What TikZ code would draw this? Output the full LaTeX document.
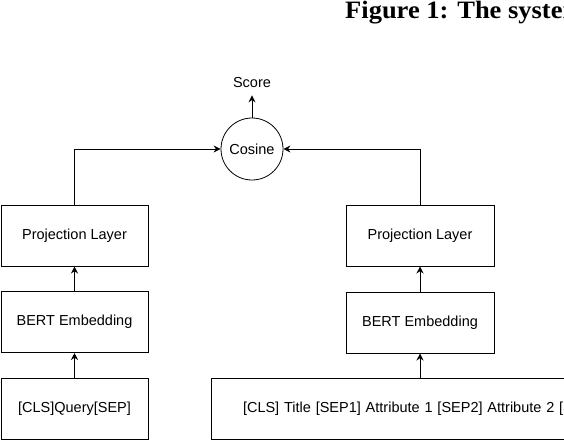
\documentclass[tikz,border=0pt]{standalone}
\usepackage{fontspec}
\setmainfont{Liberation Sans}
\newfontfamily\capfont[FakeStretch=1.06]{Liberation Serif}
\usetikzlibrary{arrows.meta}

\tikzset{
  blk/.style={draw, line width=1pt, minimum width=147pt, minimum height=61pt, inner sep=0pt},
  lnk/.style={-{Stealth[length=7pt,width=7pt]}, line width=1pt},
}

\begin{document}
\begin{tikzpicture}[x=1pt, y=-1pt, font=\fontsize{14.5}{17}\selectfont]
\useasboundingbox (0,0) rectangle (564,440);
\clip (0,0) rectangle (564,440);

% caption, cut at the page edge
\node[anchor=base west, inner sep=0pt, font=\capfont\bfseries\fontsize{25}{30}\selectfont]
  (caption) at (345,18) {Figure 1: The system};

% query tower
\node[blk] (lproj) at (74.5,235.5) {Projection Layer};
\node[blk] (lbert) at (74.5,322) {BERT Embedding};
\node[blk] (lquery) at (74.5,408.5) {[CLS]Query[SEP]};

% item tower
\node[blk, minimum width=148pt] (rproj) at (420,235.5) {Projection Layer};
\node[blk, minimum width=148pt] (rbert) at (420,322.5) {BERT Embedding};
\node[blk, text width=450pt, inner xsep=32pt, align=left] (ritem) at (468,408.5)
  {[CLS] Title [SEP1] Attribute 1 [SEP2] Attribute 2 [SEP3]};

% similarity
\node[draw, circle, line width=0.8pt, minimum size=62pt, inner sep=0pt] (cosine) at (252,149) {Cosine};
\node[anchor=base, inner sep=0pt, inner ysep=8pt] (score) at (252,87) {Score};

\draw[lnk] (lquery) -- (lbert);
\draw[lnk] (lbert) -- (lproj);
\draw[lnk] (lproj.north) |- (cosine.west);
\draw[lnk] (ritem.north -| rbert) -- (rbert);
\draw[lnk] (rbert) -- (rproj);
\draw[lnk] (rproj.north) |- (cosine.east);
\draw[lnk] (cosine) -- (score);

\end{tikzpicture}
\end{document}
